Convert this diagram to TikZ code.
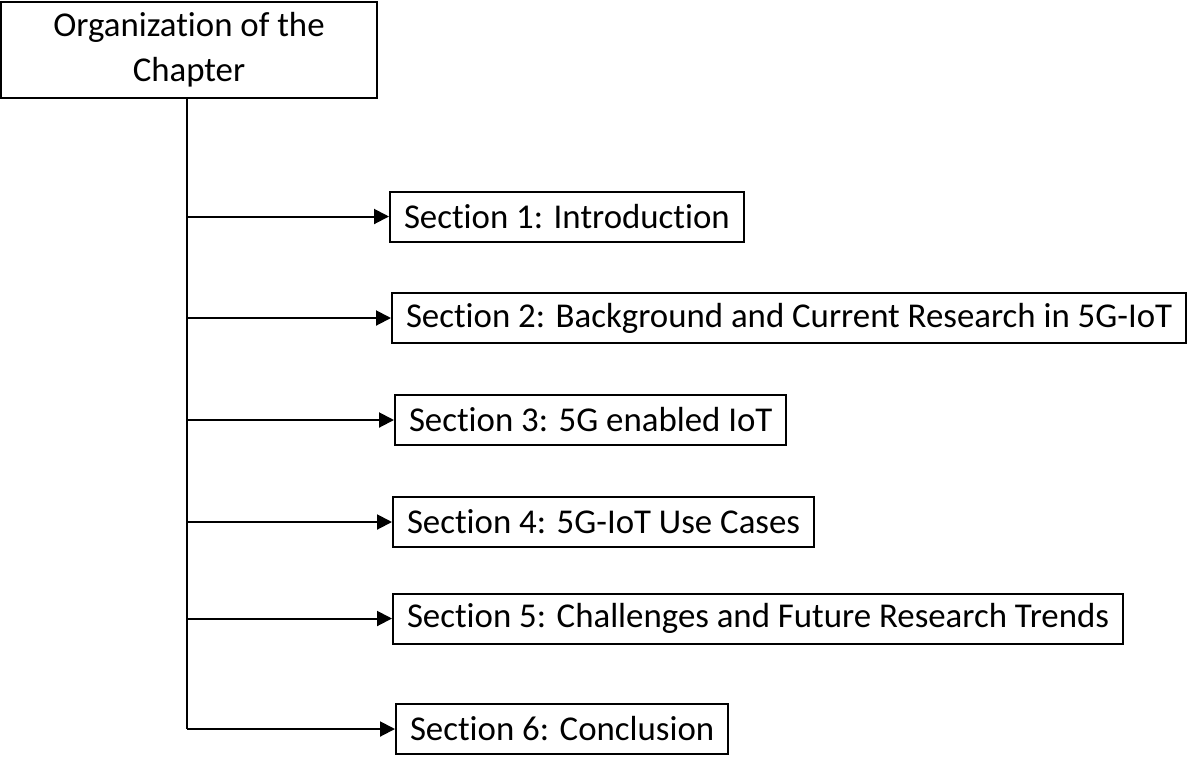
\documentclass[tikz,border=0pt]{standalone}
\usepackage{fontspec}
\setmainfont{Carlito}[Ligatures=NoCommon]
\usetikzlibrary{positioning, arrows.meta}

\begin{document}
\begin{tikzpicture}[
  x=0.6pt, y=-0.6pt,
  title/.style={draw, rectangle, line width=1.2pt, minimum width=225.6pt, minimum height=57.6pt, align=center, font=\fontsize{20.9}{27}\selectfont},
  section/.style={draw, rectangle, line width=1.2pt, anchor=west, minimum height=30pt, inner xsep=8.4pt, font=\fontsize{20.9}{24}\selectfont},
  arrow/.style={line width=1.2pt, -{Triangle[length=9pt, width=9pt]}}
]
\useasboundingbox (0,0) rectangle (1200,758);

% Title
\node[title] (chapter) at (189,50) {Organization of the\\Chapter};

% Sections
\node[section] (sec1) at (389,216.5) {Section 1: Introduction};
\node[section] (sec2) at (391,318) {Section 2: Background and Current Research in 5G-IoT};
\node[section] (sec3) at (394,420) {Section 3: 5G enabled IoT};
\node[section] (sec4) at (392,522) {Section 4: 5G-IoT Use Cases};
\node[section] (sec5) at (392,618.5) {Section 5: Challenges and Future Research Trends};
\node[section] (sec6) at (395,729) {Section 6: Conclusion};

% Trunk
\coordinate (trunk) at (187,729);
\draw[line width=1.2pt] (chapter.south -| trunk) -- (trunk);

% Arrows
\foreach \s in {1,...,6}
  \draw[arrow] (sec\s.west -| trunk) -- (sec\s.west);

\end{tikzpicture}
\end{document}
